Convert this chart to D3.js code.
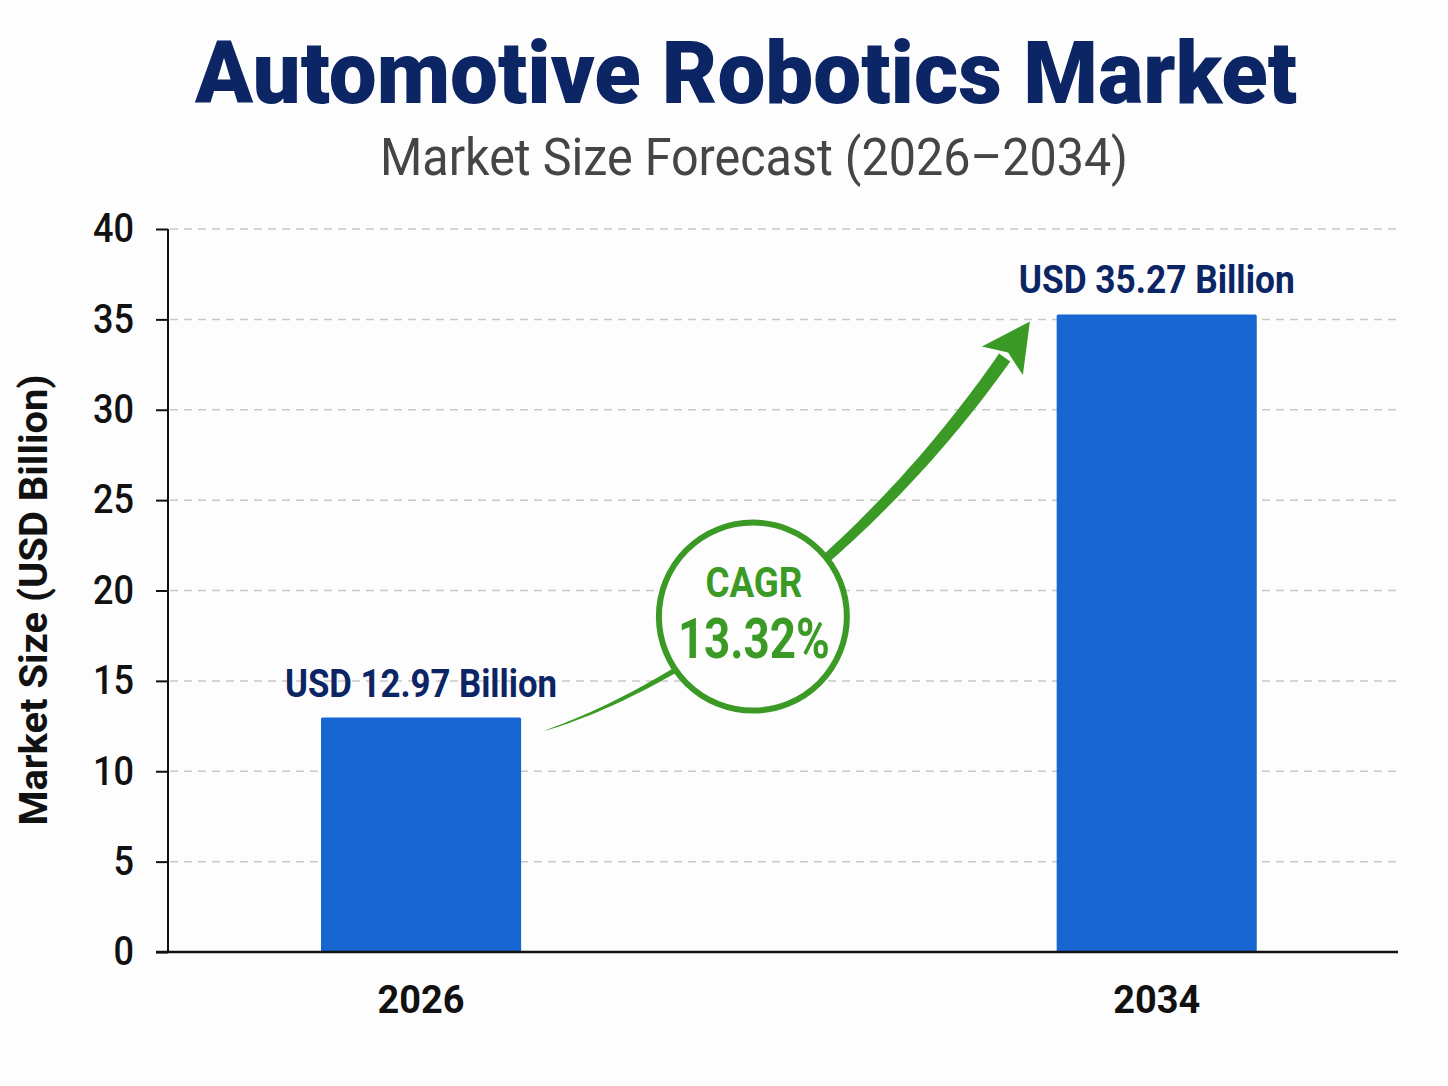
<!DOCTYPE html>
<html>
<head>
<meta charset="utf-8">
<script src="https://cdn.jsdelivr.net/npm/d3@7"></script>
<style>
  html, body { margin: 0; padding: 0; background: #fdfdfd; }
  svg { display: block; font-family: Roboto, "Noto Sans", sans-serif; }
</style>
</head>
<body>
<svg id="chart" width="1448" height="1086"></svg>
<script>
// ---- data ----
const categories = ["2026", "2034"];
const values = [12.97, 35.27];
const valueLabels = ["USD 12.97 Billion", "USD 35.27 Billion"];
const yTicks = [0, 5, 10, 15, 20, 25, 30, 35, 40];
const titleText = "Automotive Robotics Market";
const subtitleText = "Market Size Forecast (2026–2034)";
const yAxisTitle = "Market Size (USD Billion)";
const cagrLabel = "CAGR";
const cagrValue = "13.32%";

// ---- layout ----
const W = 1448, H = 1086;
const plot = { left: 168, right: 1398, top: 229, bottom: 952 };
const navy = "#0c2565", barBlue = "#1766d2", green = "#3b9a26";

const svg = d3.select("#chart");
svg.append("rect").attr("width", W).attr("height", H).attr("fill", "#fdfdfd");

const x = d3.scaleBand().domain(categories).range([plot.left, plot.right])
  .paddingInner(0.728).paddingOuter(0.2).align(0.52);
const y = d3.scaleLinear().domain([0, 40]).range([plot.bottom, plot.top]);

function fit(sel, w) {
  return sel.attr("textLength", w).attr("lengthAdjust", "spacingAndGlyphs");
}

// Title
fit(svg.append("text").attr("x", 746).attr("y", 103).attr("text-anchor", "middle")
  .attr("font-size", 88).attr("font-weight", 900).attr("fill", navy).text(titleText), 1102);
fit(svg.append("text").attr("x", 754).attr("y", 175).attr("text-anchor", "middle")
  .attr("font-size", 51).attr("font-weight", 400).attr("fill", "#454545").text(subtitleText), 748);

// Grid lines
svg.append("g").selectAll("line").data(yTicks.filter(d => d > 0)).join("line")
  .attr("x1", plot.left + 2).attr("x2", plot.right)
  .attr("y1", d => y(d)).attr("y2", d => y(d))
  .attr("stroke", "#c9c9c9").attr("stroke-width", 1.5).attr("stroke-dasharray", "8,6");

// Y axis
const yAxis = svg.append("g").attr("transform", `translate(${plot.left},0)`)
  .call(d3.axisLeft(y).tickValues(yTicks).tickSize(12).tickPadding(22).tickFormat(d3.format("d")));
yAxis.select(".domain").attr("stroke", "#111").attr("stroke-width", 2).attr("d", `M0,${plot.top}V${plot.bottom}`);
yAxis.selectAll(".tick line").attr("stroke", "#111").attr("stroke-width", 2);
yAxis.selectAll(".tick text").attr("font-size", 40).attr("font-family", "Roboto, sans-serif")
  .attr("fill", "#111").attr("font-weight", 500)
  .each(function(d) { const t = d3.select(this); t.attr("textLength", String(d).length * 20.5).attr("lengthAdjust", "spacingAndGlyphs"); });

// Y axis title
fit(svg.append("text").attr("transform", "translate(47,600) rotate(-90)").attr("text-anchor", "middle")
  .attr("font-size", 38).attr("font-weight", 700).attr("fill", "#111").text(yAxisTitle), 451);

// Bars
svg.append("g").selectAll("rect").data(categories).join("rect")
  .attr("x", d => x(d)).attr("width", x.bandwidth())
  .attr("y", (d, i) => y(values[i])).attr("height", (d, i) => y(0) - y(values[i]))
  .attr("fill", barBlue).attr("rx", 1.5);

// X axis
const xAxis = svg.append("g").attr("transform", `translate(0,${plot.bottom})`)
  .call(d3.axisBottom(x).tickSize(0).tickPadding(61));
xAxis.select(".domain").attr("stroke", "#111").attr("stroke-width", 2.5).attr("d", `M${plot.left - 12},0H${plot.right}`);
xAxis.selectAll(".tick text").attr("font-size", 39).attr("font-weight", 700).attr("fill", "#111")
  .attr("font-family", "Roboto, sans-serif").attr("dy", 0)
  .attr("textLength", 87).attr("lengthAdjust", "spacingAndGlyphs");

// Value labels
svg.append("g").selectAll("text").data(categories).join("text")
  .attr("x", d => x(d) + x.bandwidth() / 2).attr("y", (d, i) => y(values[i]) - 21)
  .attr("text-anchor", "middle").attr("font-size", 39).attr("font-weight", 700).attr("fill", navy)
  .attr("textLength", (d, i) => i === 0 ? 272 : 276).attr("lengthAdjust", "spacingAndGlyphs")
  .text((d, i) => valueLabels[i]);

// ---- CAGR arrow (anchored to bar geometry) ----
const b0Right = x(categories[0]) + x.bandwidth(), b0Top = y(values[0]);
const b1Left = x(categories[1]), b1Top = y(values[1]);
const P0 = [b0Right + 24, b0Top + 13];
const P1 = [b0Right + 177, b0Top - 37];
const P2 = [b1Left - 180, b1Top + 226];
const P3 = [b1Left - 52, b1Top + 43];
function bez(t) {
  const a = (1 - t) ** 3, b = 3 * (1 - t) ** 2 * t, c = 3 * (1 - t) * t * t, d = t ** 3;
  return [a * P0[0] + b * P1[0] + c * P2[0] + d * P3[0], a * P0[1] + b * P1[1] + c * P2[1] + d * P3[1]];
}
function dbez(t) {
  const a = 3 * (1 - t) ** 2, b = 6 * (1 - t) * t, c = 3 * t * t;
  return [a * (P1[0] - P0[0]) + b * (P2[0] - P1[0]) + c * (P3[0] - P2[0]),
          a * (P1[1] - P0[1]) + b * (P2[1] - P1[1]) + c * (P3[1] - P2[1])];
}
const N = 80, left = [], right = [];
for (let i = 0; i <= N; i++) {
  const t = i / N, p = bez(t), dv = dbez(t), L = Math.hypot(dv[0], dv[1]);
  const nx = -dv[1] / L, ny = dv[0] / L;
  const w = (0.3 + 13.5 * Math.pow(t, 0.75)) / 2;
  left.push([p[0] + nx * w, p[1] + ny * w]);
  right.push([p[0] - nx * w, p[1] - ny * w]);
}
const shaft = left.concat(right.reverse());
svg.append("path").attr("d", d3.line()(shaft) + "Z").attr("fill", green);
// arrowhead
const de = dbez(1), Le = Math.hypot(de[0], de[1]);
const ux = de[0] / Le, uy = de[1] / Le, nx = -uy, ny = ux;
const tip = [P3[0] + ux * 44, P3[1] + uy * 44];
const wingA = [P3[0] + nx * 25 - ux * 4, P3[1] + ny * 25 - uy * 4];
const wingB = [P3[0] - nx * 25 - ux * 4, P3[1] - ny * 25 - uy * 4];
const notch = [P3[0] + ux * 6, P3[1] + uy * 6];
svg.append("path").attr("d", d3.line()([tip, wingA, notch, wingB]) + "Z").attr("fill", green);

// CAGR circle
const cx = (b0Right + b1Left) / 2 - 36, cy = b0Top - 101;
svg.append("circle").attr("cx", cx).attr("cy", cy).attr("r", 94)
  .attr("fill", "#fdfdfd").attr("stroke", green).attr("stroke-width", 6);
fit(svg.append("text").attr("x", cx + 1).attr("y", cy - 20).attr("text-anchor", "middle")
  .attr("font-size", 42).attr("font-weight", 700).attr("fill", green).text(cagrLabel), 97);
fit(svg.append("text").attr("x", cx + 1).attr("y", cy + 41).attr("text-anchor", "middle")
  .attr("font-size", 56).attr("font-weight", 700).attr("fill", green).text(cagrValue), 152);
</script>
</body>
</html>
